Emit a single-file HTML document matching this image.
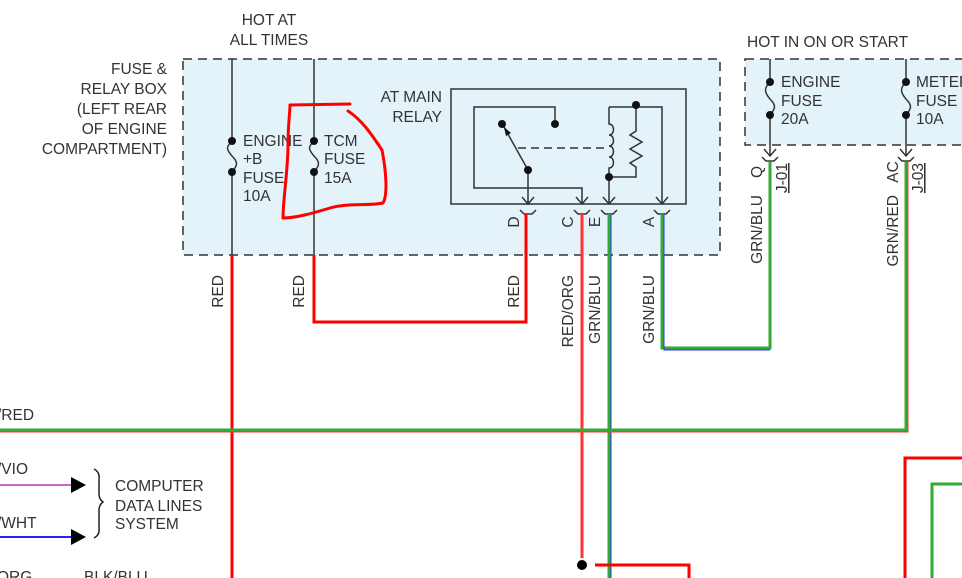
<!DOCTYPE html>
<html><head><meta charset="utf-8"><style>
html,body{margin:0;padding:0;background:#fff;}
svg{display:block;font-family:"Liberation Sans",sans-serif;}
text{fill:#333;font-size:15.5px;}
</style></head><body>
<svg width="962" height="578" viewBox="0 0 962 578" xmlns="http://www.w3.org/2000/svg">
<rect x="183" y="59" width="537" height="196" fill="#e4f3fa" stroke="#333" stroke-width="1.5" stroke-dasharray="9,6"/>
<rect x="745" y="59" width="230" height="86" fill="#e4f3fa" stroke="#333" stroke-width="1.5" stroke-dasharray="9,6"/>

<text x="269" y="25" text-anchor="middle">HOT AT</text>
<text x="269" y="45" text-anchor="middle">ALL TIMES</text>
<g text-anchor="end">
<text x="167" y="74">FUSE &amp;</text>
<text x="167" y="94">RELAY BOX</text>
<text x="167" y="114">(LEFT REAR</text>
<text x="167" y="134">OF ENGINE</text>
<text x="167" y="154">COMPARTMENT)</text>
<text x="442" y="102">AT MAIN</text>
<text x="442" y="122">RELAY</text>
</g>
<text x="747" y="47">HOT IN ON OR START</text>

<g stroke="#333" stroke-width="1.5" fill="none">
<line x1="232" y1="59" x2="232" y2="141"/><line x1="232" y1="172" x2="232" y2="255"/>
<path d="M232 141 c-6 6 -6 8 0 15 c6 6 6 9 0 16"/>
<line x1="314" y1="59" x2="314" y2="141"/><line x1="314" y1="172" x2="314" y2="255"/>
<path d="M314 141 c-6 6 -6 8 0 15 c6 6 6 9 0 16"/>
<line x1="770" y1="59" x2="770" y2="82"/><line x1="770" y1="115" x2="770" y2="156"/>
<path d="M770 82 c-6 6 -6 10 0 17 c6 6 6 9 0 16"/>
<line x1="906" y1="59" x2="906" y2="82"/><line x1="906" y1="115" x2="906" y2="156"/>
<path d="M906 82 c-6 6 -6 10 0 17 c6 6 6 9 0 16"/>
<path d="M764 149 l6 7 l6 -7 M900 149 l6 7 l6 -7"/>
</g>
<g fill="#111">
<circle cx="232" cy="141" r="4"/><circle cx="232" cy="172" r="4"/>
<circle cx="314" cy="141" r="4"/><circle cx="314" cy="172" r="4"/>
<circle cx="770" cy="82" r="4"/><circle cx="770" cy="115" r="4"/>
<circle cx="906" cy="82" r="4"/><circle cx="906" cy="115" r="4"/>
</g>
<text x="243" y="146">ENGINE</text><text x="243" y="164">+B</text><text x="243" y="183">FUSE</text><text x="243" y="201">10A</text>
<text x="324" y="146">TCM</text><text x="324" y="164">FUSE</text><text x="324" y="183">15A</text>
<text x="781" y="87">ENGINE</text><text x="781" y="106">FUSE</text><text x="781" y="124">20A</text>
<text x="916" y="87">METER</text><text x="916" y="106">FUSE</text><text x="916" y="124">10A</text>

<g stroke="#333" stroke-width="1.5" fill="none">
<rect x="451" y="89" width="235" height="115"/>
<path d="M555 124 V107 H474 V188 H582 V204"/>
<path d="M528 170 V204"/>
<line x1="528" y1="170" x2="504" y2="127"/>
<line x1="518" y1="148" x2="605" y2="148" stroke-dasharray="8,5"/>
<path d="M609 204 V177"/>
<path d="M609 107 V124 c6 0 6 11 0 11 c6 0 6 11 0 11 c6 0 6 11 0 11 c6 0 6 11 0 11 V177 H636 V167 l-6 -4 l12 -7 l-12 -7 l12 -7 l-12 -7 l6 -4 V107"/>
<path d="M609 107 H662 V204"/>
<path d="M522 197 l6 7 l6 -7 M576 197 l6 7 l6 -7 M603 197 l6 7 l6 -7 M656 197 l6 7 l6 -7"/>
<path d="M520 210 l4 4 h8 l4 -4 M574 210 l4 4 h8 l4 -4 M601 210 l4 4 h8 l4 -4 M654 210 l4 4 h8 l4 -4 M762 157 l4 4 h8 l4 -4 M898 157 l4 4 h8 l4 -4"/>
</g>
<path d="M504 127 l2 9 l5 -3 z" fill="#111"/>
<g fill="#111">
<circle cx="502" cy="124" r="4"/><circle cx="555" cy="124" r="4"/><circle cx="528" cy="170" r="4"/>
<circle cx="636" cy="105" r="4"/><circle cx="609" cy="177" r="4"/>
</g>
<g text-anchor="middle">
<text transform="translate(519,222) rotate(-90)">D</text>
<text transform="translate(573,222) rotate(-90)">C</text>
<text transform="translate(600,222) rotate(-90)">E</text>
<text transform="translate(654,222) rotate(-90)">A</text>
<text transform="translate(762,172) rotate(-90)">Q</text>
<text transform="translate(898,172) rotate(-90)">AC</text>
</g>
<text transform="translate(787,163) rotate(-90)" text-decoration="underline" text-anchor="end">J-01</text>
<text transform="translate(923,163) rotate(-90)" text-decoration="underline" text-anchor="end">J-03</text>

<g fill="none" stroke-width="3">
<path d="M232 255 V578" stroke="#f00"/>
<path d="M314 255 V322 H526 V214" stroke="#f00"/>
<path d="M582 214 V558" stroke="#f33"/>
<path d="M609 214 V578" stroke="#3a3"/>
<path d="M611 214 V578" stroke="#33f" stroke-width="1"/>
<path d="M662 214 V348 H770 V162" stroke="#3a3"/>
<path d="M664 214 V350 H770" stroke="#33f" stroke-width="1"/>
<path d="M906 162 V430 H0" stroke="#3a3"/>
<path d="M0 432 H908 V162" stroke="#f33" stroke-width="1"/>
<path d="M595 565 H689 V578" stroke="#f00"/>
<path d="M962 458 H905 V578" stroke="#f00"/>
<path d="M962 484 H932 V578" stroke="#3a3"/>
<path d="M0 485 H74" stroke="#c6c" stroke-width="2"/>
<path d="M0 537 H74" stroke="#22f" stroke-width="2"/>
</g>
<circle cx="582" cy="565" r="5" fill="#000"/>
<path d="M71 477 L86 485 L71 493 Z M71 529 L86 537 L71 545 Z" fill="#000"/>
<path d="M94 469 q6 3 5 10 v15 q0 5 4 8 q-4 3 -4 8 v18 q1 7 -5 10" fill="none" stroke="#222" stroke-width="1.5"/>
<text x="115" y="491">COMPUTER</text><text x="115" y="511">DATA LINES</text><text x="115" y="529">SYSTEM</text>
<text x="-3" y="420">/RED</text>
<text x="-3" y="474">/VIO</text>
<text x="-3" y="528">/WHT</text>
<text x="-3" y="582">ORG</text><text x="84" y="582">BLK/BLU</text>

<g text-anchor="end">
<text transform="translate(223,275) rotate(-90)">RED</text>
<text transform="translate(304,275) rotate(-90)">RED</text>
<text transform="translate(519,275) rotate(-90)">RED</text>
<text transform="translate(573,275) rotate(-90)">RED/ORG</text>
<text transform="translate(600,275) rotate(-90)">GRN/BLU</text>
<text transform="translate(654,275) rotate(-90)">GRN/BLU</text>
<text transform="translate(762,195) rotate(-90)">GRN/BLU</text>
<text transform="translate(898,195) rotate(-90)">GRN/RED</text>
</g>

<path d="M290 105 L350 104 M348 111 C362 120 372 135 382 150 C386 170 388 195 383 203 C370 206 345 203 330 208 C310 214 295 218 283 218 C283 200 288 170 288 145 C288 125 290 112 290 105" fill="none" stroke="#f00" stroke-width="3" stroke-linecap="round" stroke-linejoin="round"/>
</svg>
</body></html>
